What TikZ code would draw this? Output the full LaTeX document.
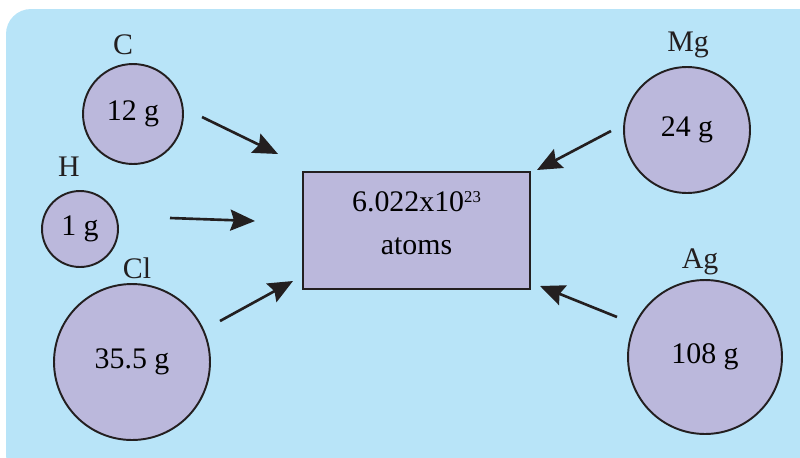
\documentclass[tikz,border=0pt]{standalone}
\usepackage{fontspec}
\setmainfont{Liberation Serif}
\usepackage{xcolor}
\usetikzlibrary{arrows.meta}
\definecolor{skyback}{HTML}{B8E4F8}
\definecolor{atomfill}{HTML}{BBB8DC}
\definecolor{inkline}{HTML}{231F20}

\begin{document}
\begin{tikzpicture}[x=0.02cm,y=-0.02cm,>={Stealth[length=14pt,width=12pt,inset=2pt]},
  atom/.style={circle,draw=inkline,line width=1.1pt,fill=atomfill,inner sep=0pt,font=\fontsize{17}{20}\selectfont},
  elem/.style={font=\fontsize{17}{20}\selectfont,text=inkline},
  molebox/.style={rectangle,draw=inkline,line width=1.1pt,fill=atomfill,minimum width=4.54cm,minimum height=2.34cm,
    align=center,font=\fontsize{17}{24}\selectfont},
  push/.style={->,line width=1.5pt,draw=inkline,color=inkline}]
  \useasboundingbox (0,0) rectangle (800,457);
  \clip (0,0) rectangle (800,457);
  \fill[skyback,rounded corners=0.5cm] (6,9) rectangle (830,480);
  % amounts
  \node[molebox] (mole) at (416.5,230.5)
    {6.022x10\raisebox{5.5pt}{\fontsize{9.5}{10}\selectfont 23}\\atoms\rule[-9pt]{0pt}{9pt}};
  \node[atom,minimum size=2cm] (c) at (133,114) {12 g};
  \node[atom,minimum size=1.52cm] (h) at (80,229) {1 g};
  \node[atom,minimum size=3.12cm] (cl) at (132,362) {35.5 g};
  \node[atom,minimum size=2.52cm] (mg) at (687,130) {24 g};
  \node[atom,minimum size=3.08cm] (ag) at (705,357) {108 g};
  \foreach \p/\n/\x/\y in {cc/C/123/45,hh/H/69/167,cll/Cl/137/268,mgg/Mg/688/45,agg/Ag/700/262}{
    \node[elem] (\p) at (\x,\y) {\n};
  }
  % arrows
  \coordinate (c-tail) at (202,117);  \coordinate (c-head) at (278,154);
  \coordinate (h-tail) at (170,218);  \coordinate (h-head) at (255,221);
  \coordinate (cl-tail) at (220,321); \coordinate (cl-head) at (293,281);
  \coordinate (mg-tail) at (611,131); \coordinate (mg-head) at (537,170);
  \coordinate (ag-tail) at (617,317); \coordinate (ag-head) at (540,286);
  \foreach \a in {c,h,cl,mg,ag}{
    \draw[push] (\a-tail) -- (\a-head);
  }
\end{tikzpicture}
\end{document}
